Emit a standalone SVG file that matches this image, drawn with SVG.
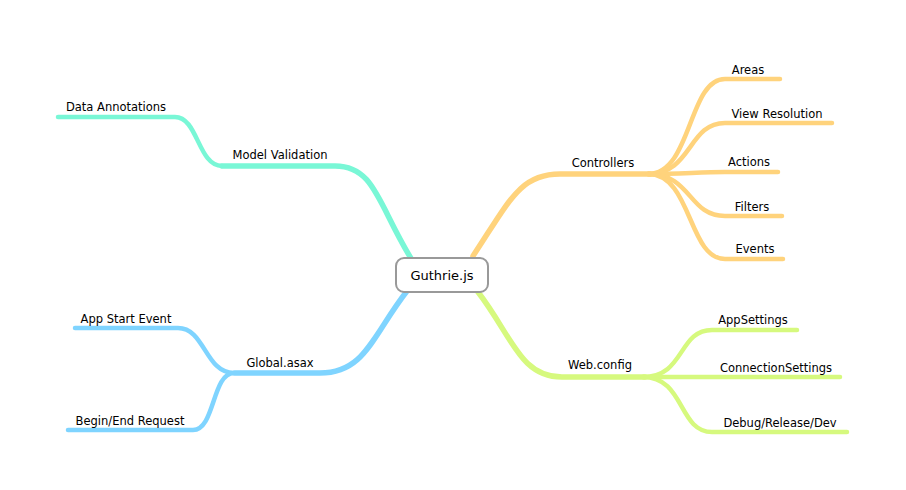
<svg xmlns="http://www.w3.org/2000/svg" width="906" height="490" viewBox="0 0 906 490">
<style>
text{font-family:"DejaVu Sans","Liberation Sans",sans-serif;font-size:11.5px;fill:#000;text-anchor:middle}
.c{fill:none;stroke-linecap:round}
.m{stroke-width:5.5}
.s{stroke-width:4.5}
.teal{stroke:#79f7d6}
.orange{stroke:#ffd37c}
.blue{stroke:#7fd4ff}
.green{stroke:#d6f97e}
.root{fill:#fff;stroke:#999;stroke-width:2}
</style>
<rect width="906" height="490" fill="#fff"/>
<g id="connectors">
<path class="c m teal" d="M412,260 C378,205 375,166 335,166 L222,166"/>
<path class="c s teal" d="M222,166 C198,166 198,117 175,117 L58,117"/>
<path class="c m orange" d="M473,256 C510,200 520,174 560,174 L650,174"/>
<path class="c s orange" d="M648,174 C692,174 688,79 725,79 L780,79"/>
<path class="c s orange" d="M648,174 C692,174 688,123 725,123 L832,123"/>
<path class="c s orange" d="M648,174 C680,174 700,172 725,172 L778,172"/>
<path class="c s orange" d="M648,174 C692,174 688,216 725,216 L782,216"/>
<path class="c s orange" d="M648,174 C692,174 688,259 725,259 L783,259"/>
<path class="c m blue" d="M407,291 C372,336 365,373 320,373 L235,373"/>
<path class="c s blue" d="M234,373 C205,373 205,328 178,328 L75,328"/>
<path class="c s blue" d="M234,373 C212,373 215,430 193,430 L68,430"/>
<path class="c m green" d="M478,292 C512,336 520,377 562,377 L645,377"/>
<path class="c s green" d="M643,377 C685,377 678,330 712,330 L797,330"/>
<path class="c s green" d="M643,377 C680,377 690,377 712,377 L840,377"/>
<path class="c s green" d="M643,377 C685,377 678,432 712,432 L847,432"/>
</g>
<g id="root"><rect class="root" x="396" y="258" width="92" height="34" rx="8"/><text x="442" y="280" style="font-size:13px">Guthrie.js</text></g>
<g id="model-validation"><text x="280" y="159">Model Validation</text></g>
<g id="data-annotations"><text x="116" y="111">Data Annotations</text></g>
<g id="controllers"><text x="603" y="167">Controllers</text></g>
<g id="areas"><text x="748" y="74">Areas</text></g>
<g id="view-resolution"><text x="777" y="118">View Resolution</text></g>
<g id="actions"><text x="749" y="166">Actions</text></g>
<g id="filters"><text x="752" y="211">Filters</text></g>
<g id="events"><text x="755" y="253">Events</text></g>
<g id="global-asax"><text x="280" y="367">Global.asax</text></g>
<g id="app-start-event"><text x="126" y="323">App Start Event</text></g>
<g id="begin-end-request"><text x="130" y="425">Begin/End Request</text></g>
<g id="web-config"><text x="600" y="369">Web.config</text></g>
<g id="appsettings"><text x="753" y="324">AppSettings</text></g>
<g id="connectionsettings"><text x="776" y="372">ConnectionSettings</text></g>
<g id="debug-release-dev"><text x="780" y="427">Debug/Release/Dev</text></g>
</svg>
